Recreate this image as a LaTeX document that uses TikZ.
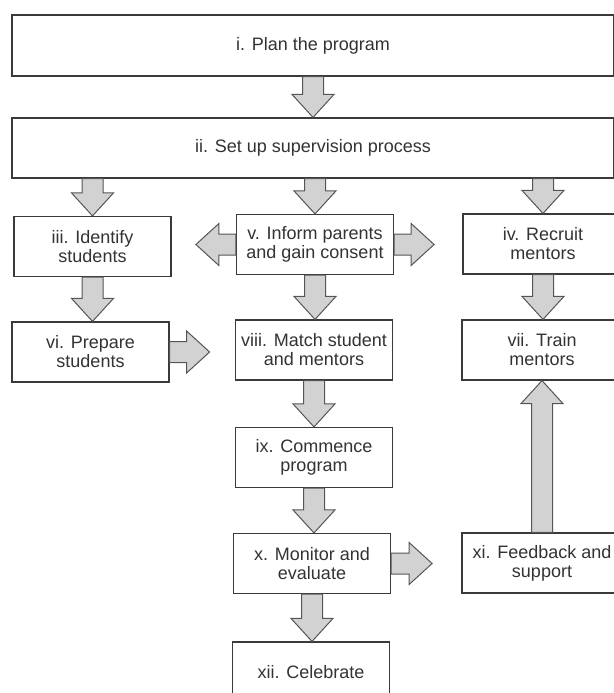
\documentclass[tikz,border=0pt]{standalone}
\usepackage{fontspec}
\setmainfont{Liberation Sans}
\usetikzlibrary{calc}
\definecolor{boxline}{HTML}{3A3A3A}
\definecolor{arrowfill}{HTML}{D2D2D2}
\definecolor{arrowline}{HTML}{555555}
\definecolor{txt}{HTML}{333333}
\tikzset{
  fatarrow/.style={fill=arrowfill, draw=arrowline, line width=1pt, line join=miter,
    to path={let \p1=(\tikztostart), \p2=(\tikztotarget),
      \n1={veclen(\x2-\x1,\y2-\y1)}, \n2={atan2(\y2-\y1,\x2-\x1)} in
      {[shift={(\p1)}, rotate=\n2]
        (0pt,-10.5pt) -- ({\n1-23pt},-10.5pt) -- ({\n1-23pt},-21pt) -- (\n1,0pt)
        -- ({\n1-23pt},21pt) -- ({\n1-23pt},10.5pt) -- (0pt,10.5pt) -- cycle}}}
}
\begin{document}
\begin{tikzpicture}[x=1pt, y=-1pt, every node/.style={draw=boxline, line width=1.2pt, fill=white, text=txt, align=center, minimum width=157pt, minimum height=60pt, inner sep=2pt, font=\fontsize{18}{19}\selectfont}]
      \useasboundingbox (0,0) rectangle (613,693);
      \node[minimum width=602pt, minimum height=61pt] (i) at (313,45.5) {i. Plan the program};
      \node[minimum width=602pt] (ii) at (313,148) {ii. Set up supervision process};
      \node (iii) at (92.5,246.5) {iii. Identify\\students};
      \node (v) at (315,244.5) {v. Inform parents\\and gain consent};
      \node[minimum width=160pt] (iv) at (543,244) {iv. Recruit\\mentors};
      \node (vi) at (90.5,352) {vi. Prepare\\students};
      \node (viii) at (314,350) {viii. Match student\\and mentors};
      \node[minimum width=160pt] (vii) at (542,350) {vii. Train\\mentors};
      \node (ix) at (314,457.5) {ix. Commence\\program};
      \node (x) at (312,563.5) {x. Monitor and\\evaluate};
      \node[minimum width=160pt] (xi) at (542,563) {xi. Feedback and\\support};
      \node (xii) at (311,672) {xii. Celebrate};

      \coordinate (vleft) at ($(v.west)+(-40pt,0)$);
      \coordinate (vright) at ($(v.east)+(40pt,0)$);
      \coordinate (viright) at ($(vi.east)+(40pt,0)$);
      \coordinate (xright) at ($(x.east)+(41pt,0)$);

      \draw[fatarrow] (i.south) to (ii.north);
      \draw[fatarrow] (ii.south -| iii.north) to (iii.north);
      \draw[fatarrow] (ii.south -| v.north) to (v.north);
      \draw[fatarrow] (ii.south -| iv.north) to (iv.north);
      \draw[fatarrow] (v.west) to (vleft);
      \draw[fatarrow] (v.east) to (vright);
      \draw[fatarrow] (iii.south) to (iii.south |- vi.north);
      \draw[fatarrow] (v.south) to (v.south |- viii.north);
      \draw[fatarrow] (iv.south) to (iv.south |- vii.north);
      \draw[fatarrow] (vi.east) to (viright);
      \draw[fatarrow] (viii.south) to (viii.south |- ix.north);
      \draw[fatarrow] (ix.south) to (ix.south |- x.north);
      \draw[fatarrow] (x.south) to (x.south |- xii.north);
      \draw[fatarrow] (x.east) to (xright);
      \draw[fatarrow] (xi.north) to (xi.north |- vii.south);
    \end{tikzpicture}
\end{document}
